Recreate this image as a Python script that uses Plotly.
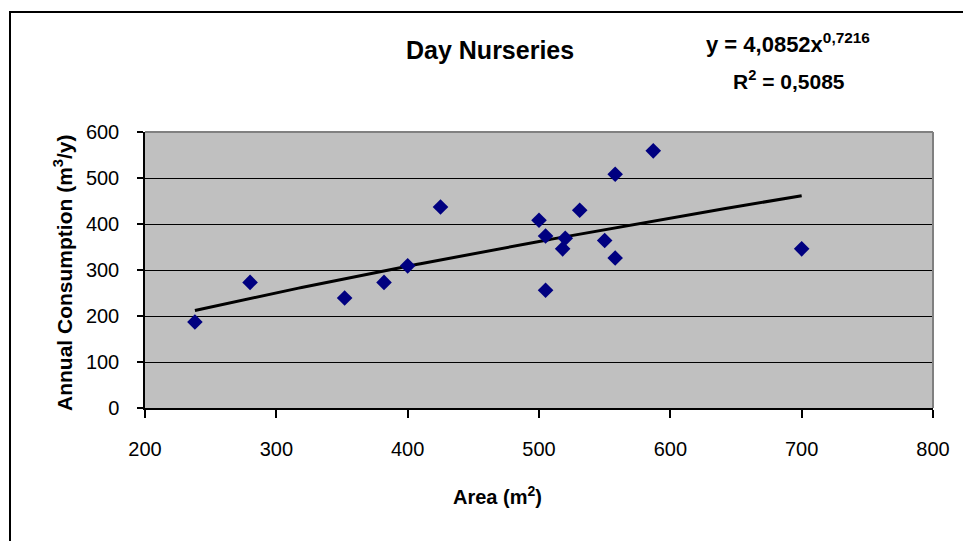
import numpy as np
import plotly.graph_objects as go

# Data
area = [238, 280, 352, 382, 400, 425, 500, 505, 505, 518, 520, 531, 550, 558, 558, 587, 700]
consumption = [187, 273, 239, 273, 309, 437, 408, 374, 256, 346, 369, 430, 364, 326, 508, 559, 346]

# Power trendline coefficients as displayed
coef_a = 4.0852
coef_b = 0.7216
r_squared = 0.5085

title_text = "Day Nurseries"
x_title = "Area (m<sup>2</sup>)"
y_title = "Annual Consumption (m<sup>3</sup>/y)"
x_ticks = [200, 300, 400, 500, 600, 700, 800]
y_ticks = [0, 100, 200, 300, 400, 500, 600]

FONT = "Liberation Sans, Arial, sans-serif"

# the page body adds an 8px offset; work in window pixels and convert
OFF = 8
W, H = 971 - OFF, 541 - OFF
L, R, T, B = 145, 933, 132, 408  # plot area in window pixels

trend_x = np.linspace(min(area), max(area), 200)
trend_y = coef_a * trend_x ** coef_b

fig = go.Figure()
fig.add_trace(go.Scatter(x=trend_x, y=trend_y, mode="lines",
                         line=dict(color="black", width=3), hoverinfo="skip",
                         showlegend=False))
fig.add_trace(go.Scatter(x=area, y=consumption, mode="markers",
                         marker=dict(symbol="diamond", size=12, color="#000080",
                                     line=dict(width=0)),
                         showlegend=False))

def px_x(p):
    return (p - L) / (R - L)

def px_y(p):
    return (B - p) / (B - T)

fmt = lambda v: f"{v:.4f}".replace(".", ",")

annotations = [
    dict(text=f"<b>{title_text}</b>", x=px_x(490), y=px_y(50), xref="paper", yref="paper",
         showarrow=False, font=dict(family=FONT, size=25, color="black"),
         xanchor="center", yanchor="middle"),
    dict(text=f"<b>y = {fmt(coef_a)}x<sup>{fmt(coef_b)}</sup></b>", x=px_x(788), y=px_y(43),
         xref="paper", yref="paper", showarrow=False,
         font=dict(family=FONT, size=22, color="black"), xanchor="center", yanchor="middle"),
    dict(text=f"<b>R<sup>2</sup> = {fmt(r_squared)}</b>", x=px_x(789), y=px_y(80),
         xref="paper", yref="paper", showarrow=False,
         font=dict(family=FONT, size=21, color="black"), xanchor="center", yanchor="middle"),
    dict(text=f"<b>{x_title}</b>", x=px_x(497), y=px_y(495), xref="paper", yref="paper",
         showarrow=False, font=dict(family=FONT, size=20, color="black"),
         xanchor="center", yanchor="middle"),
    dict(text=f"<b>{y_title}</b>", x=px_x(63), y=px_y(273), xref="paper", yref="paper",
         showarrow=False, textangle=-90, font=dict(family=FONT, size=21, color="black"),
         xanchor="center", yanchor="middle"),
]

shapes = [
    # outer chart border (left & top visible)
    dict(type="rect", xref="paper", yref="paper", x0=px_x(10), y0=px_y(800),
         x1=px_x(1200), y1=px_y(12), line=dict(color="black", width=2), layer="below"),
    # gray top & right plot border
    dict(type="line", xref="paper", yref="paper", x0=0, x1=1, y0=1, y1=1,
         line=dict(color="#808080", width=2), layer="above"),
    dict(type="line", xref="paper", yref="paper", x0=1, x1=1, y0=0, y1=1,
         line=dict(color="#808080", width=2), layer="above"),
]

fig.update_layout(
    width=W, height=H,
    margin=dict(l=L - OFF, r=(W + OFF) - R, t=T - OFF, b=(H + OFF) - B, pad=0),
    paper_bgcolor="white", plot_bgcolor="#C0C0C0",
    font=dict(family=FONT, size=20, color="black"),
    annotations=annotations, shapes=shapes,
    showlegend=False,
)
fig.update_xaxes(range=[200, 800], tickvals=x_ticks, showgrid=False, zeroline=False,
                 showline=True, linecolor="black", linewidth=1.5,
                 ticks="outside", ticklen=8, tickcolor="black", tickwidth=1.5,
                 tickfont=dict(family=FONT, size=20), ticklabelstandoff=14)
fig.update_yaxes(range=[0, 600], tickvals=y_ticks, showgrid=True, gridcolor="black",
                 gridwidth=1, zeroline=False,
                 showline=True, linecolor="black", linewidth=1.5,
                 ticks="outside", ticklen=6, tickcolor="black", tickwidth=1.5,
                 tickfont=dict(family=FONT, size=20), ticklabelstandoff=14)

fig.write_html("out.html")
